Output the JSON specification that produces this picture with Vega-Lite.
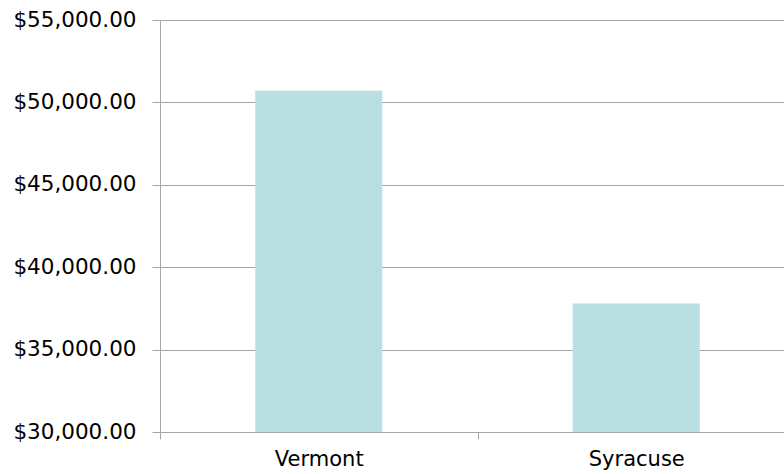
{
  "$schema": "https://vega.github.io/schema/vega-lite/v6.json",
  "width": 635,
  "height": 412,
  "autosize": {"type": "none"},
  "padding": {"left": 160, "top": 20, "right": 0, "bottom": 42},
  "background": "white",
  "config": {"view": {"stroke": null}, "font": "DejaVu Sans"},
  "data": {"values": [
    {"school": "Vermont", "cost": 50700},
    {"school": "Syracuse", "cost": 37800}
  ]},
  "mark": {"type": "bar", "color": "#b9dfe2", "width": {"band": 0.4}},
  "encoding": {
    "x": {
      "field": "school", "type": "nominal", "sort": null,
      "scale": {"paddingInner": 0, "paddingOuter": 0},
      "axis": {
        "title": null, "labelAngle": 0, "labelFont": "DejaVu Sans", "labelFontSize": 21,
        "labelColor": "#000000", "labelPadding": 9, "tickBand": "extent", "tickSize": 7,
        "tickColor": "#a6a6a6", "domainColor": "#a6a6a6", "domainWidth": 1, "grid": false
      }
    },
    "y": {
      "field": "cost", "type": "quantitative",
      "scale": {"domain": [30000, 55000], "nice": false, "zero": false},
      "axis": {
        "title": null, "values": [30000, 35000, 40000, 45000, 50000, 55000],
        "format": "$,.2f", "labelFont": "DejaVu Sans", "labelFontSize": 21.5,
        "labelColor": "#000000", "labelPadding": 16, "tickSize": 8,
        "tickColor": "#a6a6a6", "domainColor": "#a6a6a6", "grid": true,
        "gridColor": "#a6a6a6", "gridOpacity": 1
      }
    },
    "y2": {"datum": 30000}
  }
}
